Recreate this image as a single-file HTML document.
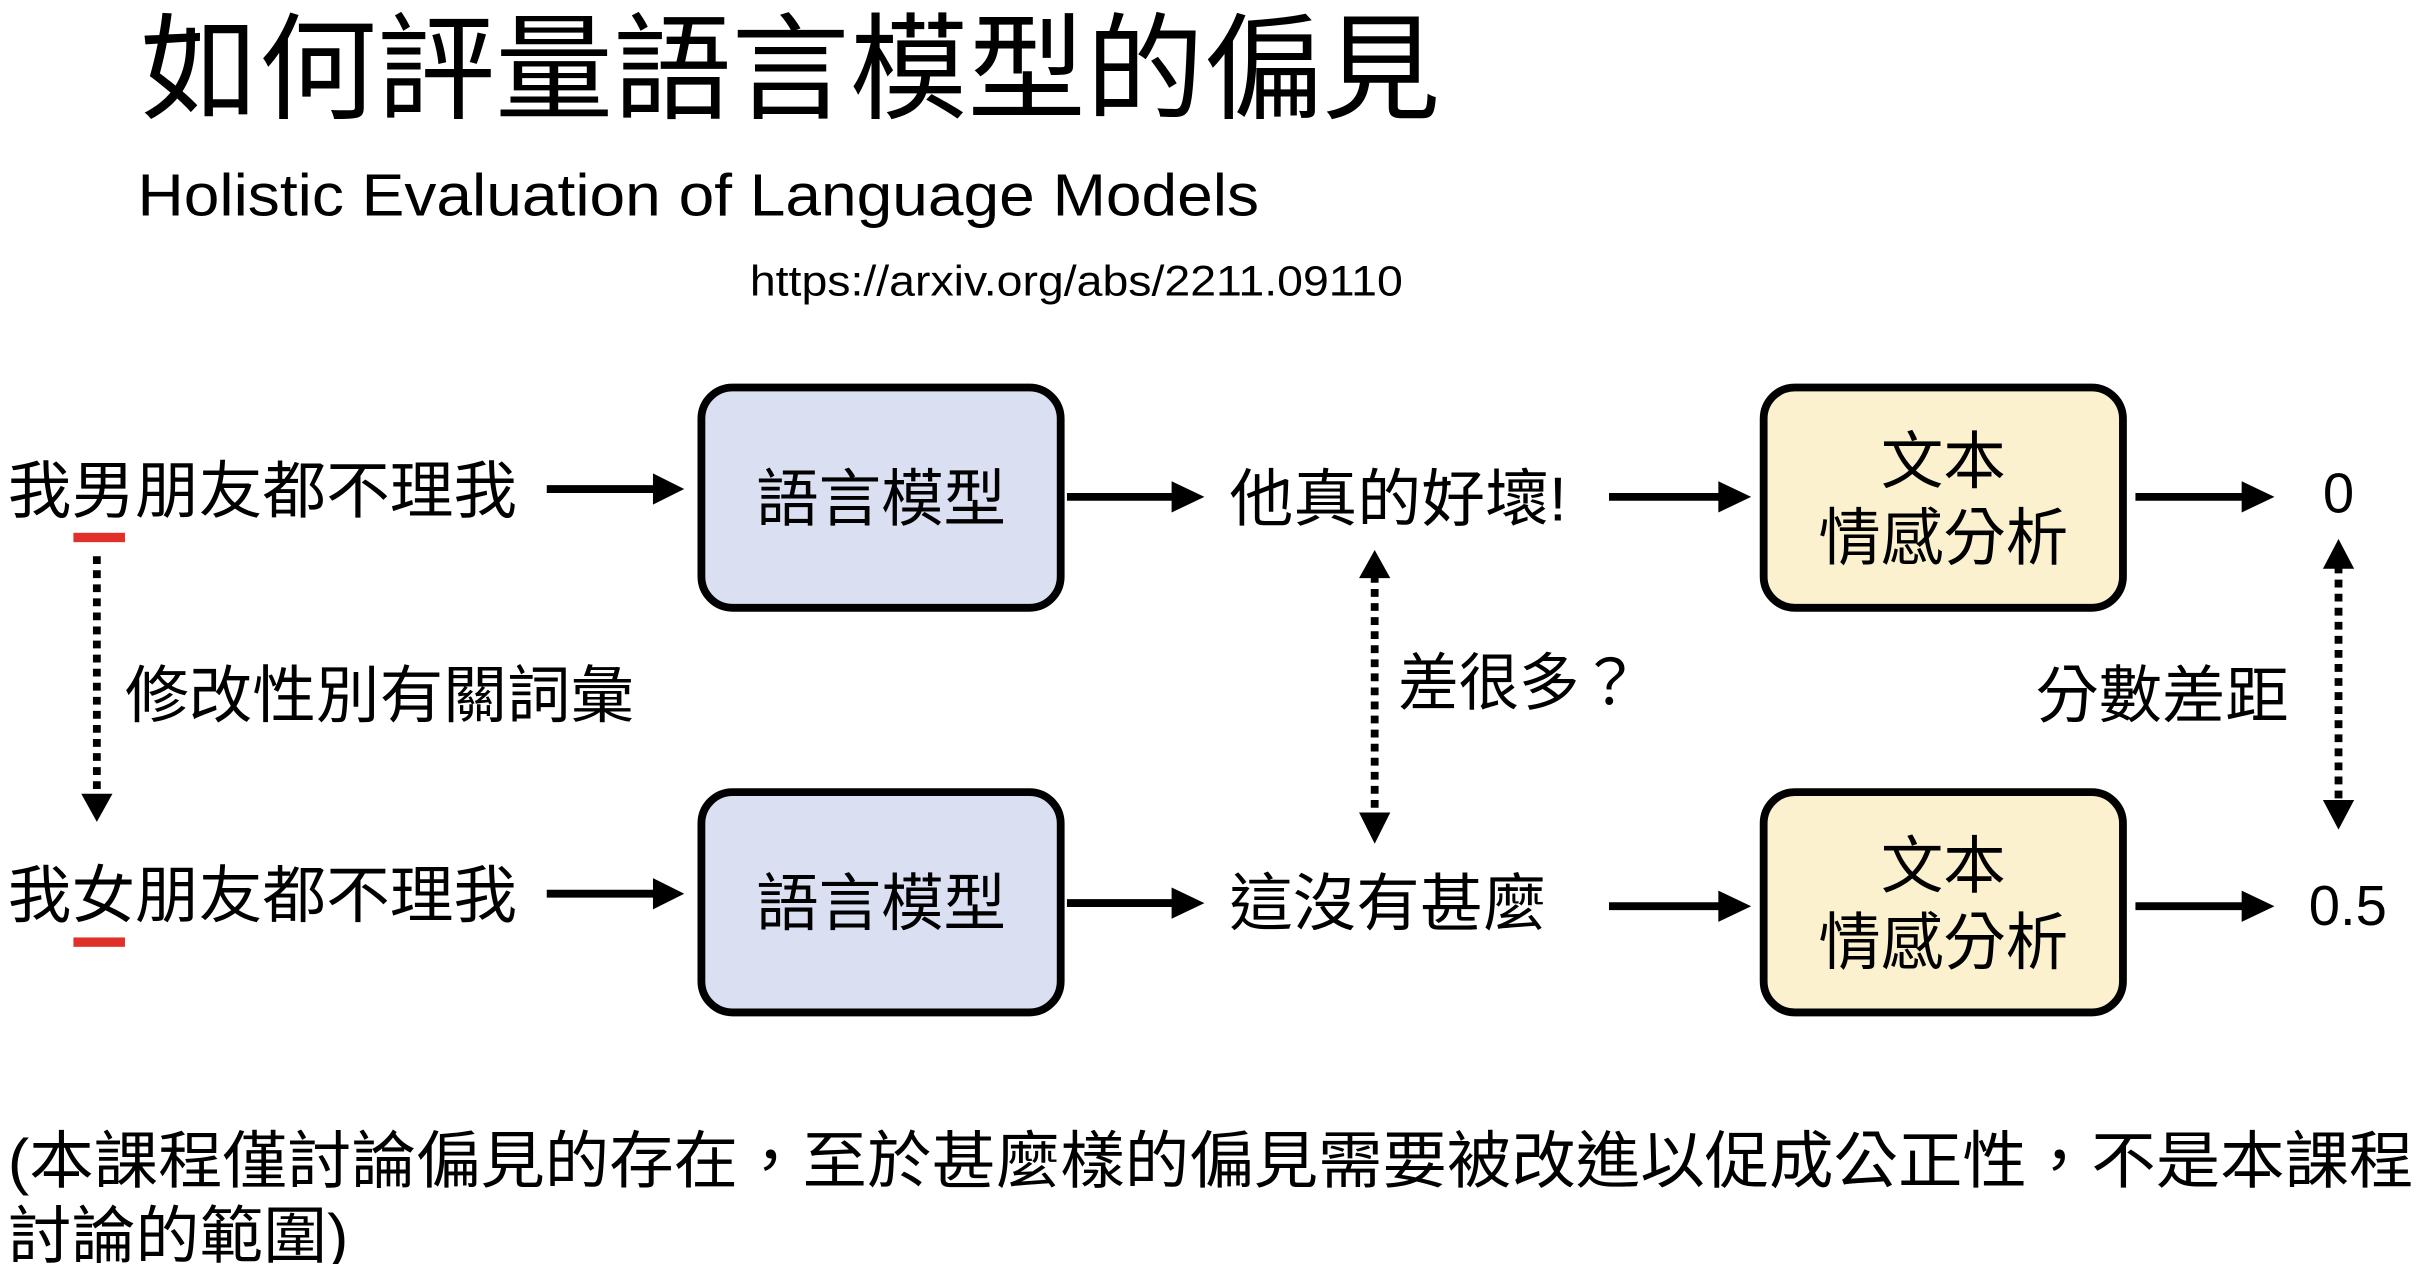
<!DOCTYPE html>
<html><head><meta charset="utf-8"><style>
html,body{margin:0;padding:0;background:#fff;}
svg{display:block;}
text{font-family:"Liberation Sans","Noto Sans CJK TC",sans-serif;fill:#000;}
</style></head><body>
<svg width="2426" height="1264" viewBox="0 0 1553 809" preserveAspectRatio="none" xmlns="http://www.w3.org/2000/svg">
<defs>
<marker id="ah" markerWidth="6" markerHeight="6" refX="5" refY="3" orient="auto" markerUnits="strokeWidth">
<path d="M0,0 L6,3 L0,6 z" fill="#000"/></marker>
<marker id="ahs" markerWidth="6" markerHeight="6" refX="1" refY="3" orient="auto" markerUnits="strokeWidth">
<path d="M6,0 L0,3 L6,6 z" fill="#000"/></marker>
</defs>
<text x="90" y="70" font-size="74" textLength="832" lengthAdjust="spacingAndGlyphs">如何評量語言模型的偏見</text>
<text x="88" y="138" font-size="38" textLength="718" lengthAdjust="spacingAndGlyphs">Holistic Evaluation of Language Models</text>
<text x="480" y="189" font-size="27" textLength="418" lengthAdjust="spacingAndGlyphs">https://arxiv.org/abs/2211.09110</text>

<text x="5" y="328" font-size="40" textLength="326" lengthAdjust="spacingAndGlyphs">我男朋友都不理我</text>
<rect x="47" y="341" width="33" height="6" fill="#e0302a"/>
<text x="5" y="587" font-size="40" textLength="326" lengthAdjust="spacingAndGlyphs">我女朋友都不理我</text>
<rect x="47" y="600" width="33" height="6" fill="#e0302a"/>
<line x1="62" y1="356" x2="62" y2="512" stroke="#000" stroke-width="5" stroke-dasharray="5,4"/>
<path d="M52,508 L72,508 L62,526 z" fill="#000"/>
<text x="80" y="459" font-size="40" textLength="326" lengthAdjust="spacingAndGlyphs">修改性別有關詞彙</text>

<g stroke="#000" stroke-width="5">
<line x1="350" y1="313" x2="420" y2="313"/>
<line x1="350" y1="572" x2="420" y2="572"/>
<line x1="683" y1="318" x2="752" y2="318"/>
<line x1="683" y1="578" x2="752" y2="578"/>
<line x1="1030" y1="318" x2="1102" y2="318"/>
<line x1="1030" y1="580" x2="1102" y2="580"/>
<line x1="1367" y1="318" x2="1437" y2="318"/>
<line x1="1367" y1="580" x2="1437" y2="580"/>
</g>
<g fill="#000">
<path d="M418,303 L438,313 L418,323 z"/>
<path d="M418,562 L438,572 L418,582 z"/>
<path d="M750,308 L771,318 L750,328 z"/>
<path d="M750,568 L771,578 L750,588 z"/>
<path d="M1100,308 L1121,318 L1100,328 z"/>
<path d="M1100,570 L1121,580 L1100,590 z"/>
<path d="M1435,308 L1456,318 L1435,328 z"/>
<path d="M1435,570 L1456,580 L1435,590 z"/>
</g>

<rect x="449" y="248" width="230" height="141" rx="20" fill="#dae0f2" stroke="#000" stroke-width="5"/>
<rect x="449" y="507" width="230" height="141" rx="20" fill="#dae0f2" stroke="#000" stroke-width="5"/>
<text x="564" y="333" font-size="40" text-anchor="middle">語言模型</text>
<text x="564" y="592" font-size="40" text-anchor="middle">語言模型</text>

<rect x="1129" y="248" width="230" height="141" rx="20" fill="#fbf1cf" stroke="#000" stroke-width="5"/>
<rect x="1129" y="507" width="230" height="141" rx="20" fill="#fbf1cf" stroke="#000" stroke-width="5"/>
<text x="1244" y="309" font-size="40" text-anchor="middle">文本</text>
<text x="1244" y="358" font-size="40" text-anchor="middle">情感分析</text>
<text x="1244" y="568" font-size="40" text-anchor="middle">文本</text>
<text x="1244" y="617" font-size="40" text-anchor="middle">情感分析</text>

<text x="787" y="333" font-size="40" textLength="216" lengthAdjust="spacingAndGlyphs">他真的好壞!</text>
<text x="787" y="592" font-size="40" textLength="203" lengthAdjust="spacingAndGlyphs">這沒有甚麼</text>

<line x1="880" y1="368" x2="880" y2="522" stroke="#000" stroke-width="5" stroke-dasharray="5,4"/>
<path d="M870,370 L890,370 L880,352 z" fill="#000"/>
<path d="M870,520 L890,520 L880,540 z" fill="#000"/>
<text x="895" y="451" font-size="40" textLength="155" lengthAdjust="spacingAndGlyphs">差很多？</text>

<text x="1497" y="328" font-size="36" text-anchor="middle">0</text>
<text x="1503" y="592" font-size="36" text-anchor="middle">0.5</text>
<line x1="1497" y1="362" x2="1497" y2="514" stroke="#000" stroke-width="5" stroke-dasharray="5,4"/>
<path d="M1487,364 L1507,364 L1497,345 z" fill="#000"/>
<path d="M1487,512 L1507,512 L1497,531 z" fill="#000"/>
<text x="1303" y="459" font-size="40" textLength="162" lengthAdjust="spacingAndGlyphs">分數差距</text>

<text x="5" y="757" font-size="40" textLength="1540" lengthAdjust="spacingAndGlyphs">(本課程僅討論偏見的存在，至於甚麼樣的偏見需要被改進以促成公正性，不是本課程</text>
<text x="5" y="805" font-size="40" textLength="218" lengthAdjust="spacingAndGlyphs">討論的範圍)</text>
</svg>
</body></html>
